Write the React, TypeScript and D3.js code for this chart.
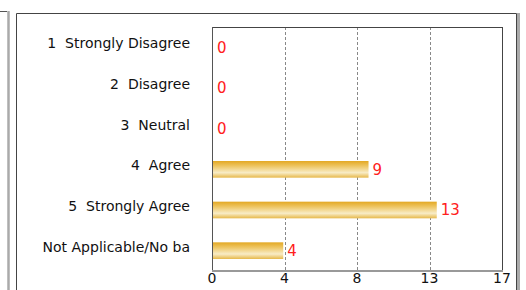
import React from "react";
import * as d3 from "d3";

const categories = [
  "1  Strongly Disagree",
  "2  Disagree",
  "3  Neutral",
  "4  Agree",
  "5  Strongly Agree",
  "Not Applicable/No ba",
];
const values = [0, 0, 0, 9, 13, 4];
const xMax = 17;
const tickValues = [0, 4.25, 8.5, 12.75, 17];
const tickLabels = ["0", "4", "8", "13", "17"];

export default function App() {
  const W = 526, H = 290;
  const left = 212, right = 502, top = 27, bottom = 271;
  const x = d3.scaleLinear().domain([0, xMax]).range([left, right]);
  const y = d3.scaleBand().domain(categories).range([top, bottom]).paddingInner(0.59).paddingOuter(0.295);
  const font = "'DejaVu Sans', Verdana, sans-serif";
  return (
    <svg width={W} height={H} style={{ position: "absolute", left: 0, top: 0 }} fontFamily={font}>
      <defs>
        <linearGradient id="barGrad" x1="0" y1="0" x2="0" y2="1">
          <stop offset="0%" stopColor="#e3a823" />
          <stop offset="30%" stopColor="#eec561" />
          <stop offset="70%" stopColor="#f8ecc6" />
          <stop offset="100%" stopColor="#e6b84a" />
        </linearGradient>
      </defs>
      <rect x={0} y={0} width={W} height={H} fill="#fff" />
      {/* neighbouring panel remnants */}
      <line x1={0} y1={11.5} x2={7} y2={11.5} stroke="#555" strokeWidth={1} />
      <line x1={8.5} y1={11} x2={8.5} y2={H} stroke="#aaa" strokeWidth={2.5} />
      {/* outer panel */}
      <line x1={16.5} y1={13.5} x2={516.5} y2={13.5} stroke="#444" strokeWidth={1} />
      <line x1={16.5} y1={13.5} x2={16.5} y2={H} stroke="#444" strokeWidth={1} />
      <line x1={516.5} y1={13.5} x2={516.5} y2={H} stroke="#444" strokeWidth={1} />
      <line x1={518.5} y1={13} x2={518.5} y2={H} stroke="#aaa" strokeWidth={3} />
      {/* grid */}
      {tickValues.slice(1, -1).map((t, i) => (
        <line key={i} x1={Math.round(x(t)) + 0.5} x2={Math.round(x(t)) + 0.5} y1={top} y2={bottom}
          stroke="#888" strokeWidth={1} strokeDasharray="3,2" />
      ))}
      {/* plot border */}
      <line x1={left} y1={top + 0.5} x2={right + 0.5} y2={top + 0.5} stroke="#444" />
      <line x1={right + 0.5} y1={top} x2={right + 0.5} y2={bottom} stroke="#444" />
      <line x1={left + 0.5} y1={top} x2={left + 0.5} y2={bottom} stroke="#555" />
      <line x1={left} y1={bottom} x2={right + 1} y2={bottom} stroke="#999" strokeWidth={2} />
      {/* bars */}
      {categories.map((c, i) => {
        const v = values[i];
        const by = y(c)!;
        const bh = y.bandwidth();
        const w = v > 0 ? x(v) - x(0) + 2 : 0;
        return (
          <g key={c}>
            {v > 0 && <rect x={left + 1} y={by} width={w} height={bh} fill="url(#barGrad)" />}
            <text x={left + 1 + w + 4} y={by + bh / 2} dy="0.36em" fontSize={15} fill="#ff2020">{v}</text>
            <text x={190} y={by + bh / 2 - 4} dy="0.36em" fontSize={14} textAnchor="end" fill="#111"
              style={{ whiteSpace: "pre" }}>{c}</text>
          </g>
        );
      })}
      {/* x tick labels */}
      {tickValues.map((t, i) => (
        <text key={i} x={x(t)} y={278} dy="0.36em" fontSize={14} textAnchor="middle" fill="#111">{tickLabels[i]}</text>
      ))}
    </svg>
  );
}
